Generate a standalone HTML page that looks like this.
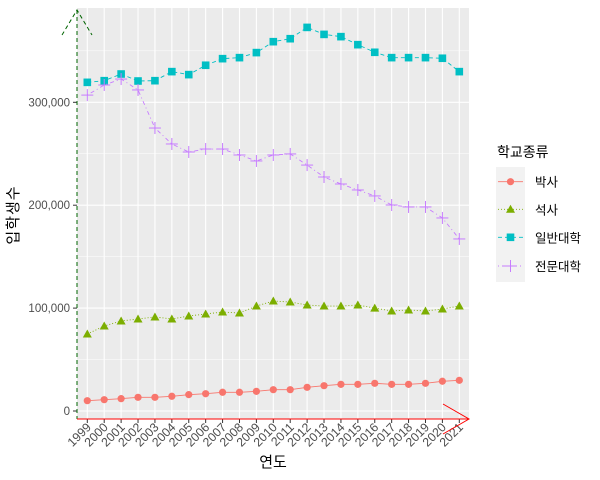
<!DOCTYPE html>
<html><head><meta charset="utf-8"><style>
body{margin:0;background:#fff;}
svg{display:block;font-family:"Liberation Sans","Noto Sans CJK KR",sans-serif;}
</style></head><body>
<svg id="chart" width="600" height="480" viewBox="0 0 600 480" xmlns="http://www.w3.org/2000/svg">
<rect width="600" height="480" fill="#fff"/>
<rect x="77" y="8" width="392" height="411" fill="#ebebeb"/>
<g id="grid"></g>
<g id="series"></g>
<g id="axes"></g>
<text x="273" y="467" font-size="15" text-anchor="middle" fill="#000">연도</text>
<text transform="translate(18,215) rotate(-90)" font-size="15" letter-spacing="1" text-anchor="middle" fill="#000">입학생수</text>
<g>
<text x="497" y="157" font-size="14" fill="#000">학교종류</text>
<rect x="496" y="167" width="29" height="115" fill="#f2f2f2"/>
<g id="legend-keys"></g>
</g>
<g>
<line x1="77" y1="10" x2="77" y2="419" stroke="#006400" stroke-dasharray="4,3"/>
<polyline points="62,35 77,10 92,35" fill="none" stroke="#006400" stroke-dasharray="4,3"/>
<line x1="77" y1="419" x2="469" y2="419" stroke="#ff0000"/>
<polyline points="443,404 469,419 443,434" fill="none" stroke="#ff0000"/>
</g>
</svg>
<script>
const years=[1999,2000,2001,2002,2003,2004,2005,2006,2007,2008,2009,2010,2011,2012,2013,2014,2015,2016,2017,2018,2019,2020,2021];
const doctor=[10000,11000,12000,13300,13300,14300,15900,16800,18200,18200,19100,20700,20700,23000,24600,25900,25900,26900,25900,25900,26900,28900,29800];
const master=[74800,82600,87500,89400,91400,89400,92300,94300,96200,95200,102000,106900,105900,103000,102000,102000,103000,100000,97200,98200,97200,99100,102000];
const university=[319400,321000,327500,320700,321000,329800,326900,336000,342400,343400,348300,358900,361800,372800,366000,363800,356000,348600,343400,343400,343400,342800,329800];
const college=[307000,316800,322600,312000,275000,259500,251700,254600,254600,248800,243000,248800,249800,239000,227400,220600,214800,209000,200200,198300,198300,187600,167200];
const yTicks=[0,100000,200000,300000];
const yTickLabels=["0","100,000","200,000","300,000"];
const seriesNames=["박사","석사","일반대학","전문대학"];
const NS="http://www.w3.org/2000/svg";
function xs(i){return 87.3+i*(372/22);}
function ys(v){return 411-v*102.9/100000;}
function mk(tag,attrs,parent){const e=document.createElementNS(NS,tag);for(const k in attrs)e.setAttribute(k,attrs[k]);parent.appendChild(e);return e;}
const grid=document.getElementById('grid'),axes=document.getElementById('axes'),ser=document.getElementById('series');
for(let v=50000;v<=350000;v+=100000){const l=mk('line',{x1:77,x2:469,y1:ys(v),y2:ys(v),stroke:'#fff','stroke-width':0.5},grid);}
yTicks.forEach((v,i)=>{
 const l=mk('line',{x1:77,x2:469,y1:ys(v),y2:ys(v),stroke:'#fff','stroke-width':1.1},grid);
 
 mk('line',{x1:73,x2:77,y1:ys(v),y2:ys(v),stroke:'#333'},axes);
 const t=mk('text',{x:70,y:ys(v)+4,'font-size':11.5,'text-anchor':'end',fill:'#4d4d4d'},axes);
 t.textContent=yTickLabels[i];
 
});
years.forEach((y,i)=>{
 const x=xs(i);
 const l=mk('line',{x1:x,x2:x,y1:8,y2:419,stroke:'#fff','stroke-width':1.1},grid);
 
 mk('line',{x1:x,x2:x,y1:419,y2:423,stroke:'#333'},axes);
 const t=mk('text',{transform:`translate(${x+4.5},${428}) rotate(-45)`,'font-size':12.3,'text-anchor':'end',fill:'#4d4d4d'},axes);
 t.textContent=y;
 
});
function marker(type,x,y,color,parent){
 if(type==='circle')return mk('circle',{cx:x,cy:y,r:3.6,fill:color},parent);
 if(type==='tri')return mk('polygon',{points:`${x},${y-4.5} ${x-4.5},${y+3.5} ${x+4.5},${y+3.5}`,fill:color},parent);
 if(type==='sq')return mk('rect',{x:x-3.8,y:y-3.8,width:7.6,height:7.6,fill:color},parent);
 const g=mk('g',{},parent);
 mk('line',{x1:x-6,x2:x+6,y1:y,y2:y,stroke:color,'stroke-width':1},g);
 mk('line',{x1:x,x2:x,y1:y-6,y2:y+6,stroke:color,'stroke-width':1},g);
 return g;
}
const defs=[[doctor,'#f8766d','none','circle','line-doctor'],[master,'#7cae00','1,2','tri','line-master'],[university,'#00bfc4','4,3','sq','line-university'],[college,'#c77cff','1,3,4,3','plus','line-college']];
defs.forEach(([vals,col,dash,m,name])=>{
 const p=mk('polyline',{points:vals.map((v,i)=>xs(i)+','+ys(v)).join(' '),fill:'none',stroke:col,'stroke-width':0.9,'stroke-dasharray':dash},ser);
 
 vals.forEach((v,i)=>{const e=marker(m,xs(i),ys(v),col,ser);
  });
});
const lk=document.getElementById('legend-keys');
[181.7,209.3,237.3,266].forEach((cy,i)=>{
 const [vals,col,dash,m]=defs[i];
 const g=mk('g',{},lk);
 
 mk('line',{x1:498,x2:523,y1:cy,y2:cy,stroke:col,'stroke-width':0.9,'stroke-dasharray':dash},g);
 marker(m,510.5,cy,col,g);
 const t=mk('text',{x:535,y:cy+5,'font-size':12.5,fill:'#000'},g);
 t.textContent=seriesNames[i];
});
</script>
</body></html>
